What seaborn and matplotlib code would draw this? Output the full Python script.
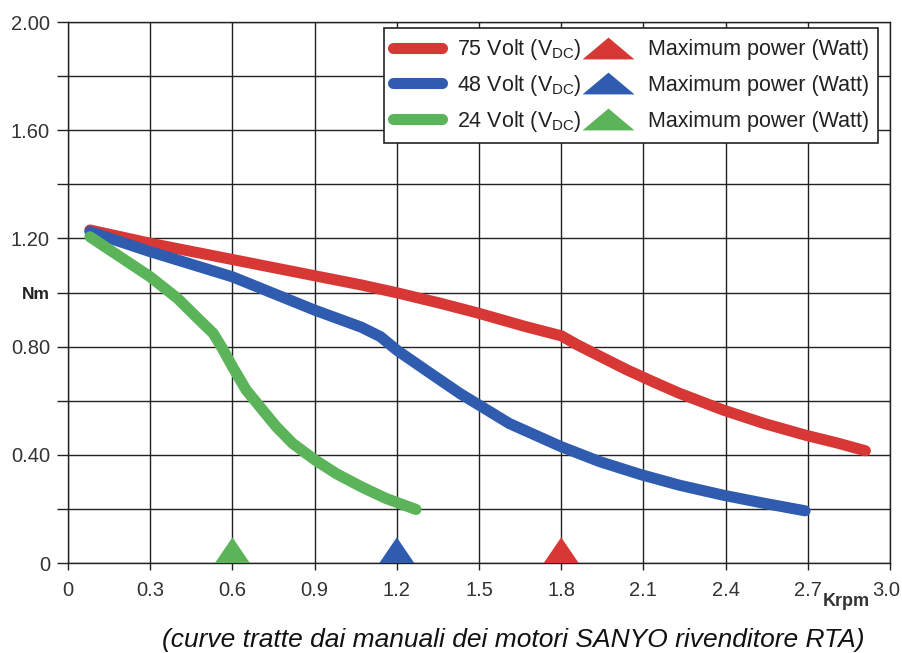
import pandas as pd
import seaborn as sns
import matplotlib.pyplot as plt
import matplotlib.transforms as mtransforms
from matplotlib.lines import Line2D

# torque curves (Krpm vs Nm)
rpm_75 = [0.08, 0.30, 0.60, 0.90, 1.07, 1.20, 1.36, 1.50, 1.67, 1.80, 1.86, 1.94,
          2.04, 2.14, 2.23, 2.39, 2.54, 2.69, 2.81, 2.91]
nm_75 = [1.231, 1.182, 1.122, 1.062, 1.028, 0.999, 0.960, 0.923, 0.874, 0.840, 0.806, 0.765,
         0.714, 0.668, 0.628, 0.566, 0.516, 0.473, 0.443, 0.415]

rpm_48 = [0.08, 0.30, 0.60, 0.90, 1.07, 1.14, 1.20, 1.26, 1.31, 1.43, 1.50, 1.61,
          1.80, 1.94, 2.09, 2.23, 2.39, 2.54, 2.69]
nm_48 = [1.225, 1.151, 1.058, 0.935, 0.872, 0.837, 0.787, 0.745, 0.710, 0.627, 0.584, 0.516,
         0.430, 0.375, 0.327, 0.288, 0.251, 0.221, 0.193]

rpm_24 = [0.08, 0.19, 0.30, 0.40, 0.48, 0.53, 0.567, 0.60, 0.65, 0.70, 0.76, 0.82,
          0.90, 0.98, 1.07, 1.16, 1.27]
nm_24 = [1.206, 1.132, 1.058, 0.978, 0.898, 0.849, 0.787, 0.726, 0.640, 0.578, 0.504, 0.442,
         0.382, 0.330, 0.282, 0.239, 0.198]

# rpm at maximum power
max_rpm = [1.8, 1.2, 0.6]
max_nm = [0.0, 0.0, 0.0]

labels = [r'75 Volt (V$_{\mathregular{DC}}$)',
          r'48 Volt (V$_{\mathregular{DC}}$)',
          r'24 Volt (V$_{\mathregular{DC}}$)']
colors = ['#d73836', '#2f5caf', '#5bb35a']

x_ticks = [0, 0.3, 0.6, 0.9, 1.2, 1.5, 1.8, 2.1, 2.4, 2.7, 3.0]
x_ticklabels = ['0', '0.3', '0.6', '0.9', '1.2', '1.5', '1.8', '2.1', '2.4', '2.7', '3.0']
y_ticks = [0, 0.2, 0.4, 0.6, 0.8, 1.0, 1.2, 1.4, 1.6, 1.8, 2.0]
y_ticklabels = ['0', '', '0.40', '', '0.80', 'Nm', '1.20', '', '1.60', '', '2.00']

sns.set_style('white')
plt.rcParams['font.family'] = ['Liberation Sans', 'DejaVu Sans']

fig = plt.figure(figsize=(9.02, 6.53), dpi=100)
ax = fig.add_axes([0.0754, 0.1378, 0.9113, 0.8285])

curves = [(rpm_75, nm_75), (rpm_48, nm_48), (rpm_24, nm_24)]
for (xs, ys), c in zip(curves, colors):
    df = pd.DataFrame({'rpm': xs, 'nm': ys})
    sns.lineplot(data=df, x='rpm', y='nm', sort=False, color=c, lw=8,
                 solid_capstyle='round', solid_joinstyle='round', ax=ax, zorder=3)

# triangle sitting on the x axis
tri = [(-0.68, 0), (0.68, 0), (0, 1), (-0.68, 0)]
mp = pd.DataFrame({'rpm': max_rpm, 'nm': max_nm, 'c': colors})
for _, r in mp.iterrows():
    sns.scatterplot(x=[r['rpm']], y=[r['nm']], marker=tri, s=37 ** 2, color=r['c'],
                    edgecolor='none', linewidth=0, ax=ax, clip_on=False, zorder=4)

ax.set_xlim(0, 3.0)
ax.set_ylim(0, 2.0)
ax.set_xticks(x_ticks)
ax.set_xticklabels(x_ticklabels, fontsize=14.5, color='#333333')
ax.set_yticks(y_ticks)
ax.set_yticklabels(y_ticklabels, fontsize=14.5, color='#333333')
nm_lab = ax.get_yticklabels()[5]
nm_lab.set_fontweight('bold')
nm_lab.set_fontsize(12.5)
nm_lab.set_color('#222222')
ax.tick_params(axis='y', length=8, width=1, color='#222222', pad=5, left=True)
ax.tick_params(axis='x', length=5, width=1, color='#222222', pad=8, bottom=True)
# last x label sits a bit inside the figure edge
last = ax.get_xticklabels()[-1]
last.set_transform(last.get_transform() +
                   mtransforms.ScaledTranslation(-3 / 72, 0, fig.dpi_scale_trans))
ax.set_xlabel('')
ax.set_ylabel('')
ax.grid(True, color='#222222', lw=1)
for s in ax.spines.values():
    s.set_color('#222222')
    s.set_linewidth(1)

ax.text(0.947, -0.072, 'Krpm', transform=ax.transAxes, fontsize=13,
        fontweight='bold', color='#333333', ha='center', va='center')
fig.text(0.569, 0.02, '(curve tratte dai manuali dei motori SANYO rivenditore RTA)',
         fontsize=19, style='italic', color='#111111', ha='center', va='center')

leg_tri = [(-1, -0.42), (1, -0.42), (0, 0.42), (-1, -0.42)]
handles = [Line2D([], [], color=c, lw=8, solid_capstyle='round') for c in colors]
handles += [Line2D([], [], color=c, lw=0, marker=leg_tri, markersize=37.4,
                   markeredgewidth=0) for c in colors]
leg_labels = labels + ['Maximum power (Watt)'] * 3
leg = ax.legend(handles, leg_labels, ncol=2, loc='upper right',
                bbox_to_anchor=(0.9854, 0.9889), borderaxespad=0, fontsize=15.5,
                handlelength=2.3, handletextpad=0.7, columnspacing=0.05,
                labelspacing=0.5, borderpad=0.42, fancybox=False, framealpha=1,
                edgecolor='#222222')
leg.get_frame().set_linewidth(1.2)
for t in leg.get_texts():
    t.set_color('#222222')

# make both legend columns share the same row pitch (mathtext rows are taller)
fig.canvas.draw()
texts = leg.get_texts()
r = fig.canvas.get_renderer()
pitch1 = texts[0].get_window_extent(r).y0 - texts[1].get_window_extent(r).y0
pitch2 = texts[3].get_window_extent(r).y0 - texts[4].get_window_extent(r).y0
cols = leg._legend_handle_box.get_children()
cols[1].sep = cols[1].sep + (pitch1 - pitch2) * 72 / fig.dpi

fig.savefig('out.png', dpi=100)
